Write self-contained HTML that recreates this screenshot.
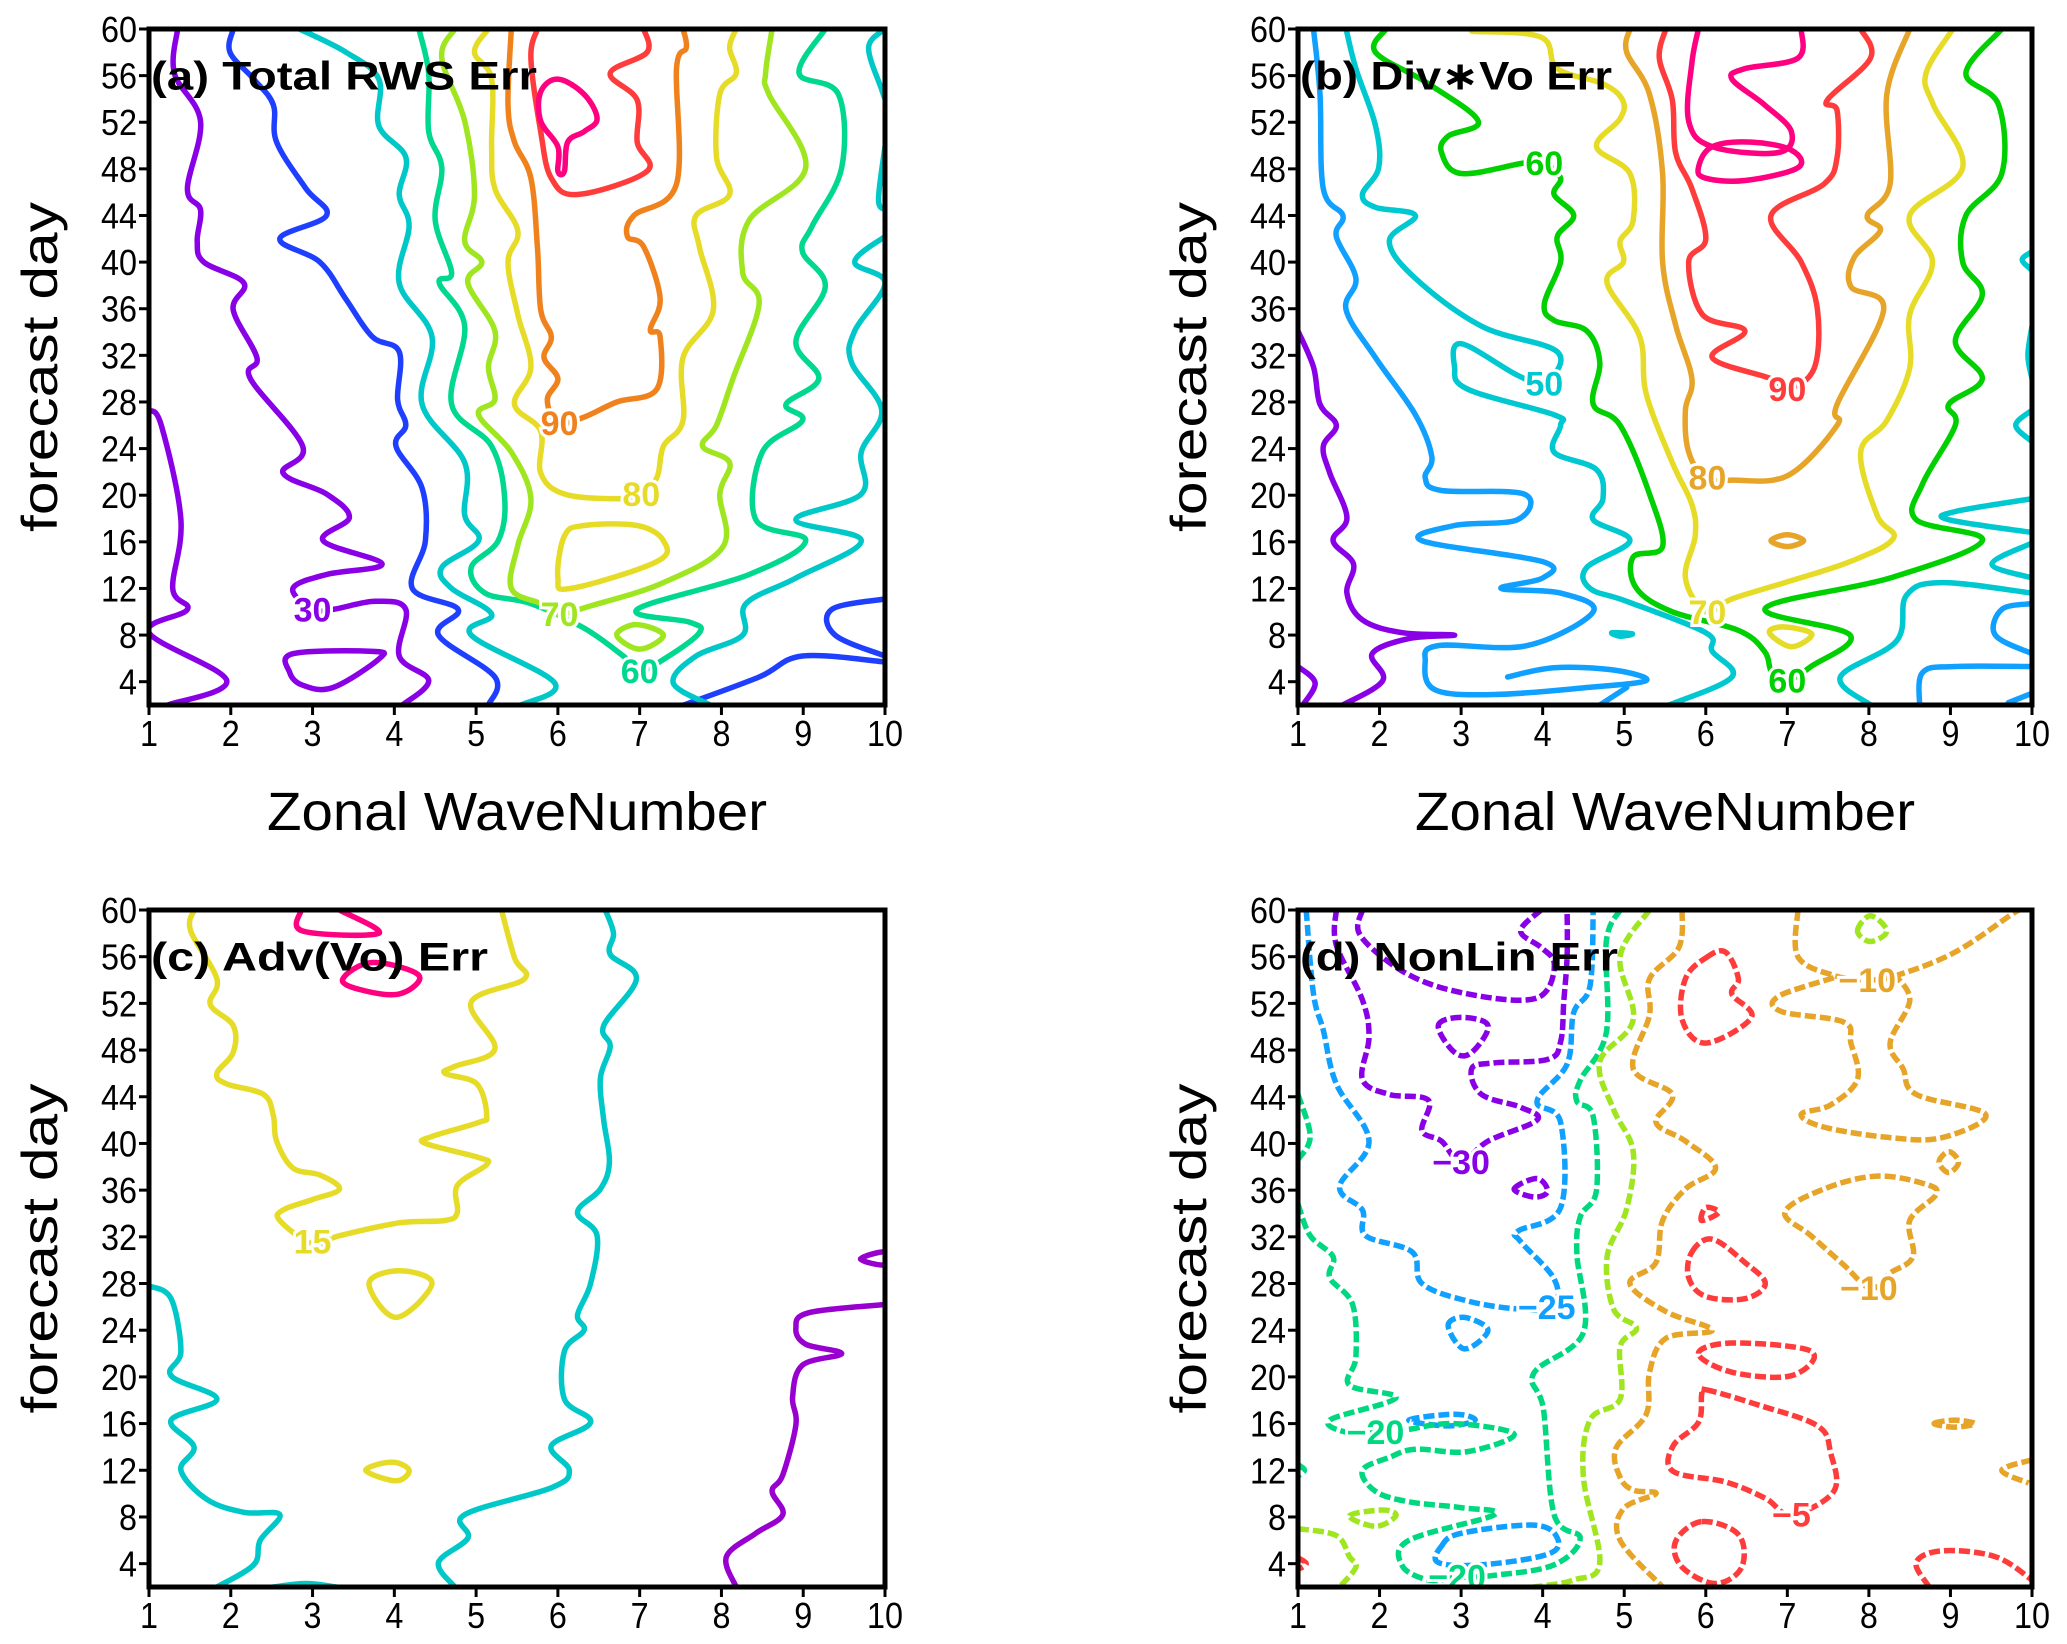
<!DOCTYPE html>
<html><head><meta charset="utf-8"><style>
html,body{margin:0;padding:0;background:#fff}
svg{display:block}
text{font-family:"Liberation Sans","DejaVu Sans",sans-serif}
</style></head><body>
<svg id="fig" width="2067" height="1644" viewBox="0 0 2067 1644" xmlns="http://www.w3.org/2000/svg">
<rect width="2067" height="1644" fill="#fff"/>
</svg>
<script>
// ===== data (wavenumber, forecast day) =====
const xTicks=[1,2,3,4,5,6,7,8,9,10];
const yTicks=[4,8,12,16,20,24,28,32,36,40,44,48,52,56,60];
const panelTitles=["(a)  Total  RWS  Err","(b)  Div\u2217Vo  Err","(c)  Adv(Vo)  Err","(d)  NonLin  Err"];

const aColors=["#8a00e6","#8a00e6","#8a00e6","#8a00e6","#1f3fff","#1f3fff","#1f3fff","#00c8c8","#00c8c8","#00c8c8","#00c8c8","#00d890","#a0e620","#a0e620","#e6dc28","#e6dc28","#f0821e","#ff3c3c","#ff0080"];
const aLines=[
[1.35,60,1.31,56.2,1.63,52.1,1.47,46.3,1.63,44.5,1.59,41.8,1.67,40,2.16,38.2,2.03,35.9,2.32,31.8,2.24,30,2.88,24.2,2.64,21.9,3.17,20.1,3.45,18.1,3.13,16.1,3.85,14.1,3.17,13.2,2.76,12,3.0,10.2,3.25,10.2,3.77,10.9,4.14,10.2,4.06,6.2,4.42,4.1,4.1,2],
[1,27.3,1.15,26,1.39,17.9,1.29,12,1.47,10.2,1,8.2,1.95,4.1,1.23,2],
[2.76,6.4,3.73,6.6,3.82,6,3.25,3.5,2.88,3.7,2.72,4.8,2.76,6.4],
[1,8.2,1,8.2],
[2.03,60,1.99,58,2.28,55.7,2.52,53.5,2.56,50.3,2.92,46.3,3.17,44,2.6,42,3.09,40,3.41,36.8,3.73,33.6,4.06,32.3,4.04,28.2,4.14,26,4.02,24.2,4.34,20.6,4.38,16.1,4.22,12,4.78,10.2,4.54,8,5.23,4.4,5.15,2],
[10,11.1,9.35,10.2,9.39,8,10,6.2],
[7.54,2,8.46,4.4,8.99,6.2,10,5.7],
[2.84,60,3.41,58,3.81,55.7,3.81,51.7,4.14,49,4.06,45.8,4.18,43.1,4.06,38.2,4.46,33.6,4.34,27.8,4.86,22.8,4.86,18.3,5.03,16.1,4.58,13.8,4.7,12,5.19,9.8,4.94,8,5.96,3.9,5.55,2],
[10,60,9.8,58.4,9.96,54.8,10,54],
[10,42.2,9.63,40,10,38.2,9.63,34.1,9.59,31.4,9.96,27.3,9.71,23.7,9.71,20.1,8.91,17.9,9.71,16.1,8.91,12.9,8.3,10.7,8.26,8,7.69,6.2,7.41,3.9,7.86,2],
[10,49.9,9.92,45.4,10,44.5],
[4.3,60,4.42,56.2,4.42,51.2,4.58,48.1,4.5,43.6,4.7,39.1,4.55,38.2,4.86,34.5,4.7,27.8,5.19,24.2,5.35,19.7,5.27,16.1,4.94,13.8,5.11,11.6,5.67,10.7,6.32,8.6,6.8,6.2,7,5,7.29,5.9,7.73,8.2,7.61,9.1,6.97,10.2,8.34,13.2,9.03,16.1,8.42,17.9,8.5,23.7,8.99,26.4,8.79,27.8,9.19,30,8.91,33.2,9.27,37.9,8.99,40.9,9.11,43.1,9.47,48.1,9.43,54.4,8.95,56.2,9.27,60],
[4.74,60,4.58,57.5,4.86,52.1,4.98,45.8,4.86,41.8,5.07,40,4.9,38.2,5.23,34.1,5.15,31,5.23,28.2,5.03,26.9,5.43,23.7,5.67,19.7,5.51,15.7,5.43,12,5.79,10.7,6,9.8,6.4,10.5,7.29,12.5,8.02,15.6,7.98,20.1,8.1,22.8,7.77,24.2,7.94,26,8.14,30,8.46,36.4,8.26,39.1,8.34,43.6,9.03,48.1,8.58,54.4,8.54,56.2,8.62,60],
[6.72,8,6.96,8.9,7.29,8,7,6.8,6.72,8],
[5.15,60,4.98,58,5.19,55.7,5.19,49.9,5.23,46.3,5.51,42.7,5.39,40,5.51,35.5,5.67,31,5.47,27.8,5.79,25.5,5.79,21.9,6.08,20.1,6.72,19.7,7,20.1,7.21,21.5,7.29,24.2,7.53,26.4,7.53,31.8,7.9,35.9,7.73,41.3,7.69,44,8.1,45.8,7.94,49,7.98,54.4,8.18,56.2,8.1,58.4,8.18,60],
[6.08,16.5,6.32,17.4,6.97,17.4,7.29,16.1,7.21,14.3,6.16,12,6,12.9,6.08,16.5],
[5.43,60,5.39,53.5,5.47,50.3,5.67,47.2,5.75,41.3,5.79,35.9,5.92,33.6,5.83,31.8,6,30,5.87,28.2,6,26.2,6.32,26.7,6.72,28,7.21,29.1,7.25,33.6,7.13,34.2,7.25,36.9,7.05,41.3,6.85,42.2,6.93,44,7.45,46.7,7.45,56.6,7.57,58.4,7.53,60],
[5.75,60,5.67,57.5,5.79,51.2,5.92,47.2,6.24,45.8,7.09,47.8,6.97,50.3,6.97,53.9,6.64,56.2,7.09,58,7.05,60],
[6,55.7,6.32,54.4,6.48,52.3,6.32,51.2,6.12,50.3,6.08,47.8,6,47.8,6,49.9,5.79,52.1,5.79,54.6,6,55.7]
];
const aLabels=[[3,10.2,"30","#8a00e6"],[6.02,26.2,"90","#f0821e"],[7.02,20.1,"80","#e6dc28"],[6.02,9.8,"70","#a0e620"],[7,4.9,"60","#00d890"]];

const bColors=["#8a00e6","#8a00e6","#10a0ff","#10a0ff","#10a0ff","#10a0ff","#10a0ff","#00c8d0","#00c8d0","#00c8d0","#00c8d0","#00c8d0","#00c8d0","#00c8d0","#00c8d0","#00d000","#e6dc28","#e6dc28","#e6a428","#e6a428","#ff3c3c","#ff0080","#ff0080"];
const bLines=[
[1,34.1,1.19,31,1.27,27.8,1.47,26,1.31,24.2,1.39,21.9,1.6,18.1,1.43,16.1,1.68,14.1,1.6,11.6,1.79,9.3,2.28,8.2,2.92,8,2.36,7.7,1.91,6.4,2.04,4.1,1.55,2],
[1,5.3,1.21,3.9,1.06,2],
[1.19,60,1.27,54.4,1.31,46.3,1.55,44,1.47,42.2,1.71,38.6,1.59,35.9,1.95,31.8,2.44,26.9,2.64,23.3,2.56,21.5,2.76,20.4,3.77,20.1,3.69,17.9,2.92,17.4,2.52,16.1,4.0,14.3,4.0,12.9,3.49,12,4.22,11.6,4.62,10,3.81,7.1,2.72,7.1,2.56,5.7,2.68,3.3,3.41,2.9,4.54,3.5,5.27,4.1,4.87,5,4.14,5.2,3.57,4.4],
[4.7,2,5.03,3.5],
[10,10.7,9.63,10.2,9.55,8,10,6.4],
[8.62,2,8.66,4.8,9.06,5.3,10,5.3],
[9.71,2.2,10,3],
[1.59,60,1.71,56.6,1.95,51.7,1.99,48.1,1.79,45.8,1.95,44.7,2.44,44,2.12,41.8,2.44,38.6,3.25,34.5,4.18,32.3,4.02,29.6,3.69,30.3,3,33,2.92,31,3.08,29.1,4.14,26.9,4.22,26,4.14,23.7,4.66,22.2,4.74,19.7,4.62,17.9,5.07,16.1,4.54,13.8,4.58,12,5.03,10.9,6,8.2,6.08,6.6,6.32,4.4,5.55,2],
[4.85,8.2,5.1,8.1,4.95,7.9,4.85,8.2],
[10,40.9,9.88,40.2,10,39.3],
[10,34.5,9.95,32,10,30],
[10,27.3,9.8,26,10,24.6],
[10,19.7,9.06,18.6,8.98,17.9,10,16.8],
[10,15.9,9.51,14.1,10,12.9],
[10,11.6,8.9,12.5,8.46,11.4,8.34,7.5,7.65,4.4,8.02,2],
[2.08,60,1.95,58,2.6,55.3,3.21,52.1,2.84,50.8,2.76,49.4,3,47.6,3.77,48.5,4.02,48.5,4.22,47.2,4.14,45.8,4.38,44,4.18,42.2,4.22,40,4.02,36.4,4.14,35,4.54,34.1,4.7,31.4,4.62,27.8,4.95,26,5.31,20.1,5.47,15.6,5.11,14.7,5.15,12,5.59,10,6.4,8.4,6.72,6.6,6.81,4.8,7,4.1,7.29,5.3,7.77,8,6.73,10.3,8.26,12.9,9.39,16.1,8.58,17.9,8.66,21,9.06,26,8.98,27.8,9.39,30,9.06,33.2,9.39,37.2,9.15,40,9.19,44,9.63,47.6,9.59,53.5,9.19,56.2,9.63,60],
[3.13,59.8,3.98,59.3,4.18,56.6,4.74,55.3,4.98,53.9,4.95,52.3,4.66,49.9,5.07,47.6,5.11,43.6,4.95,41.8,4.99,40,4.79,38.2,5.19,33.6,5.27,28.7,5.59,22.8,5.83,19.2,5.87,16.5,5.75,12.9,6,10,6.32,11.1,6.97,12.5,7.77,14.3,8.3,16.3,8.1,18.3,7.9,23.7,8.22,26.4,8.5,30.9,8.5,35.5,8.78,40,8.5,44,9.15,48.1,8.79,53.5,8.7,56.2,9.03,60],
[6.78,8.2,6.95,8.7,7.3,8.1,7.05,7.0,6.78,8.2],
[5.07,60,5.03,58,5.31,54.4,5.47,47.6,5.47,40,5.63,34.6,5.83,30,5.75,27.3,5.79,23.7,6,21.5,6.32,21.3,7.01,21.7,7.61,26,7.61,27.8,8.18,35.9,7.78,37.9,7.82,40.4,8.14,42.7,7.98,44,8.26,46.7,8.22,54.4,8.5,60],
[6.8,16.1,7,16.6,7.2,16.1,7,15.6,6.8,16.1],
[5.51,60,5.43,57.5,5.59,53.9,5.63,49.4,5.83,46.3,6,42,5.79,40,5.96,35.5,6.48,34.1,6.08,31.8,6.8,30,7,29.1,7.33,30.9,7.37,35.9,7.17,40,6.8,44,7.45,46.7,7.61,49,7.61,53,7.49,53.9,8.02,57.5,7.9,60],
[5.91,60,5.83,57.1,5.79,52.1,6.08,49.9,6.89,49.4,7.05,51.2,6.72,53.5,6.32,55.7,6.48,56.6,7.13,57.5,7.17,60],
[5.91,48.1,6.08,49.9,6.56,50.3,7.05,49.6,7.13,48.1,6.48,47,6,47.2,5.91,48.1]
];
const bLabels=[[4.02,48.5,"60","#00d000"],[4.02,29.6,"50","#00c8d0"],[7,29.1,"90","#ff3c3c"],[6.02,21.5,"80","#e6a428"],[6.02,10,"70","#e6dc28"],[7,4.1,"60","#00d000"]];

const cColors=["#e6dc28","#e6dc28","#e6dc28","#ff0080","#ff0080","#00c8c8","#00c8c8","#00c8c8","#9800d0","#9800d0"];
const cLines=[
[1.55,60,1.51,58.2,1.83,54.1,1.75,51.9,2.03,50.1,2.03,47.8,1.83,46,1.95,45.1,2.4,44.2,2.52,42.4,2.56,40.2,2.76,37.9,3.09,37.3,3.33,36.1,3.0,35.2,2.64,34.3,2.6,33.4,3,31.4,3.33,32.1,4.06,33.2,4.62,33.4,4.77,34.1,4.77,36.4,5.13,38.2,5.03,38.8,4.38,40,4.46,40.6,5.03,41.8,5.13,42.4,5.01,45.1,4.62,46,4.74,46.6,5.23,48.1,4.94,52.1,5.59,54.1,5.47,55.9,5.31,60],
[3.69,28,4.06,29.1,4.46,28,4.02,25.1,3.69,28],
[3.65,12,3.97,12.7,4.18,12,4.02,11.1,3.65,12],
[2.86,60,2.88,58.2,3.81,58,3.33,60],
[3.37,54.1,3.73,55.5,4.3,54.4,4.06,52.8,3.57,53.2,3.37,54.1],
[1,27.8,1.27,26.7,1.39,22.2,1.27,20.1,1.83,18.1,1.27,16.3,1.55,14,1.39,12,1.71,9.5,2.16,8.4,2.6,8.2,2.36,6,2.28,3.9,1.83,2],
[2.52,2,2.92,2.3,3.29,2],
[6.58,60,6.68,58,6.64,56.2,6.96,54.1,6.56,50.1,6.64,48.3,6.52,45.6,6.56,42,6.63,38.4,6.52,36.1,6.24,34.1,6.48,32.1,6.4,28,6.24,25.3,6.32,24,6.08,22.2,6.08,18.1,6.4,16.1,5.92,14.1,6.14,12,5.92,10.5,4.86,8.2,4.9,6.2,4.54,4.1,4.74,2],
[10,26.2,9.07,25.5,8.91,24.2,9.03,22.8,9.47,22,8.99,21,8.87,18.3,8.91,15.9,8.75,11.6,8.62,10.2,8.75,8.2,8.42,6.6,8.06,4.6,8.18,2],
[9.7,30.1,10,30.7,10,29.6,9.7,30.1]
];
const cLabels=[[3.0,31.6,"15","#e6dc28"]];

const dColors=["#8a00e6","#8a00e6","#8a00e6","#8a00e6","#10a0ff","#10a0ff","#10a0ff","#10a0ff","#00d880","#00d880","#00d880","#00d880","#a0e620","#a0e620","#a0e620","#a0e620","#e6a428","#e6a428","#e6a428","#e6a428","#e6a428","#e6a428","#e6a428","#ff3c3c","#ff3c3c","#ff3c3c","#ff3c3c","#ff3c3c","#ff3c3c","#ff3c3c","#ff3c3c"];
const dLines=[
[1.79,60,1.75,58,2.12,55.5,2.6,53.7,3.25,52.6,3.81,52.3,4.06,53.2,4.14,55.5,3.98,56.8,3.73,58.2,3.98,60],
[1.47,60,1.47,57,1.79,52.3,1.87,49.1,1.79,45.5,2.12,44.2,2.6,43.7,2.52,41.1,2.76,40.2,3,38.4,3.33,40.2,3.93,42,3.73,43.1,3.25,44.2,3.13,46.4,3.41,46.9,4.06,47.2,4.22,48.7,4.26,52.3,4.3,56,4.3,60],
[2.72,50.1,3,50.8,3.33,50.1,3.13,47.8,2.92,47.8,2.72,50.1],
[3.65,36.1,3.93,37,4.06,35.9,3.9,35.4,3.65,36.1],
[1.1,60,1.19,52.8,1.31,49.7,1.47,45.1,1.87,40.2,1.51,36.3,1.79,34.3,1.83,32.1,2.4,30.7,2.52,28,3.08,26.5,3.73,25.8,4.14,26,4.14,28.4,3.73,31.6,3.7,32.5,4.22,34.5,4.22,41.8,3.93,43.6,4.3,46.8,4.38,51.2,4.58,53.5,4.62,60],
[2.84,24.4,3.04,25.1,3.33,24,3.04,22.4,2.84,24.4],
[2.36,16.3,2.92,16.8,3.17,16.3,2.84,15.8,2.36,16.3],
[2.76,5.5,3,6.6,3.89,7.3,4.18,6.2,4.06,4.8,3.25,3.9,2.72,4.1,2.76,5.5],
[1,44.2,1.15,40.6,1,38.6],
[1,34.8,1.15,32.1,1.43,30.3,1.39,28.5,1.67,26.2,1.71,21.7,1.63,19.3,2.2,18.2,1.39,16.3,1.63,15.2,2.04,15.3],
[2.36,15.5,2.92,16,3.65,15.1,3.08,13.6,2.44,13.8,2.12,13.1,1.79,12,1.95,10.2,2.36,9.3,3,8.8,3.41,8.2,2.36,6,2.28,3.8,2.6,2.6,2.92,2.8,3.41,3,4.14,3.9,4.46,6.2,4.14,8.2,4.01,17.2,3.89,20.3,4.5,23.8,4.42,30.5,4.46,33.7,4.66,36,4.62,42.3,4.42,43.6,4.46,45.4,4.78,49.5,4.78,57.3,4.95,60],
[1,12.5,1.08,12,1,11.5],
[5.31,60,4.95,56,5.11,50.6,4.7,47,4.87,42.9,5.11,39.3,5.03,34.4,4.79,30.3,4.87,25.8,5.15,24.2,4.95,22.6,4.95,18.1,4.58,16.3,4.5,11.4,4.7,4.1,4.38,2.6,3.89,2],
[1,7,1.47,6.4,1.63,4.6,1.71,3.7,1.51,2],
[1.63,8.1,2.04,8.6,2.2,8.1,1.95,7.2,1.63,8.1],
[7.86,58.2,8.02,59.5,8.22,58.2,8.02,57.3,7.86,58.2],
[5.71,60,5.67,56.8,5.31,54.1,5.31,51,5.11,46.4,5.59,44.2,5.39,41.8,5.75,40.2,6.12,37.9,5.75,36.1,5.47,33.4,5.39,29.8,5.07,28,5.51,25.6,6.08,24,5.51,23.3,5.31,20.4,5.27,16.8,4.9,13.9,4.95,11.4,5.11,10.3,5.39,10,4.99,8.7,4.95,6,5.47,2],
[7.13,60,7.13,56,7.57,54.4,7.98,54,8.34,54.4,9.06,56.4,9.79,59.8,9.9,60],
[7.57,54.2,6.89,52.6,6.93,51.3,7.69,50.4,7.78,48.6,7.86,45.5,7.53,43.3,7.17,42.5,7.45,41.4,8.26,40.5,8.9,40.5,9.43,42.5,8.58,44.2,8.42,46.4,8.26,48.6,8.5,52.2,8.34,54.3],
[8.86,38.4,8.98,39.3,9.1,38.4,8.98,37.5,8.86,38.4],
[8.02,27.6,7.69,29.6,7.29,32.1,6.97,34.1,7.45,36.1,8.1,37.2,8.7,36.5,8.82,35.6,8.5,33.4,8.54,30.3,8.26,28.9,8.02,27.6],
[8.8,16,9.05,16.3,9.3,16,9.05,15.7,8.8,16],
[10,12.9,9.63,12,9.96,10.9],
[1,4.5,1.1,4,1,3.5],
[6,55.9,6.24,56.4,6.4,54.1,6.32,52.8,6.56,50.8,6,48.6,5.71,50.6,5.75,54.1,6,55.9],
[5.95,33.4,6,34.5,6.16,34.1,5.95,33.4],
[5.83,30.7,6.08,31.8,6.48,29.8,6.73,28,6.48,26.7,6,26.9,5.79,28.5,5.83,30.7],
[5.91,22,6.32,22.9,7.29,22.2,7.05,20.1,6.32,20.4,5.91,22],
[6,18.9,6.64,17.6,7.37,15.8,7.53,13.5,7.57,10.2,7.05,8.2,6.73,9.6,6.24,11,5.6,11.9,5.6,14.1,5.91,16.1,5.95,18.5,6,18.9],
[5.95,7.6,6.4,6.5,6.44,3.7,6.12,2.3,5.71,3.7,5.63,5.9,5.95,7.6],
[8.74,2,8.58,4.1,8.9,5.1,9.55,4.6,10,2.6],
[10,6.6,9.88,6.1,10,5.6]
];
const dLabels=[[3.0,38.4,"\u221230","#8a00e6"],[4.05,26,"\u221225","#10a0ff"],[1.95,15.3,"\u221220","#00d880"],[2.95,2.9,"\u221220","#00d880"],[7.98,54,"\u221210","#e6a428"],[8.0,27.6,"\u221210","#e6a428"],[7.05,8.2,"\u22125","#ff3c3c"]];

// ===== layout =====
const NS="http://www.w3.org/2000/svg";
const svg=document.getElementById('fig');
const panels=[
 {x0:149,x1:885,yt:29,yb:705,lines:aLines,colors:aColors,labels:aLabels,dash:false,name:"panel-a",xTitle:true},
 {x0:1298,x1:2032,yt:29,yb:705,lines:bLines,colors:bColors,labels:bLabels,dash:false,name:"panel-b",xTitle:true},
 {x0:149,x1:885,yt:910,yb:1587,lines:cLines,colors:cColors,labels:cLabels,dash:false,name:"panel-c",xTitle:false},
 {x0:1298,x1:2032,yt:910,yb:1587,lines:dLines,colors:dColors,labels:dLabels,dash:true,name:"panel-d",xTitle:false}
];
function mk(tag,attrs,parent){const e=document.createElementNS(NS,tag);for(const k in attrs)e.setAttribute(k,attrs[k]);(parent||svg).appendChild(e);return e;}
function smoothPath(P){
 if(P.length<3)return 'M'+P.map(p=>p[0].toFixed(1)+','+p[1].toFixed(1)).join(' L');
 const closed=Math.abs(P[0][0]-P[P.length-1][0])<0.5&&Math.abs(P[0][1]-P[P.length-1][1])<0.5;
 let d='M'+P[0][0].toFixed(1)+','+P[0][1].toFixed(1);
 const n=P.length;
 const get=i=>{if(closed){i=((i%(n-1))+(n-1))%(n-1);return P[i];}return P[Math.max(0,Math.min(n-1,i))];};
 const t=0.35;
 for(let i=0;i<n-1;i++){
  const p0=get(i-1),p1=P[i],p2=P[i+1],p3=get(i+2);
  const c1=[p1[0]+(p2[0]-p0[0])*t/2*1.0/1,p1[1]+(p2[1]-p0[1])*t/2];
  const c2=[p2[0]-(p3[0]-p1[0])*t/2,p2[1]-(p3[1]-p1[1])*t/2];
  d+=' C'+c1[0].toFixed(1)+','+c1[1].toFixed(1)+' '+c2[0].toFixed(1)+','+c2[1].toFixed(1)+' '+p2[0].toFixed(1)+','+p2[1].toFixed(1);
 }
 return d;
}

panels.forEach((p,pi)=>{
 const X=w=>p.x0+(w-1)*(p.x1-p.x0)/9;
 const Y=d=>p.yt+(60-d)*(p.yb-p.yt)/58;
 const g=mk('g',{});
 
 
 const cp=mk('clipPath',{id:'clip'+pi},g);
 mk('rect',{x:p.x0,y:p.yt,width:p.x1-p.x0,height:p.yb-p.yt},cp);
 const lg=mk('g',{'clip-path':'url(#clip'+pi+')'},g);
 p.lines.forEach((arr,li)=>{
  let pts=[];
  for(let i=0;i<arr.length;i+=2)pts.push([X(arr[i]),Y(arr[i+1])]);
  const pl=mk('path',{d:smoothPath(pts),fill:'none',stroke:p.colors[li],'stroke-width':p.dash?5.5:5.5,'stroke-linejoin':'round','stroke-linecap':p.dash?'butt':'round'},lg);
  if(p.dash)pl.setAttribute('stroke-dasharray','11 4');
  
  
 });
 p.labels.forEach(l=>{
  const t=mk('text',{x:X(l[0]),y:Y(l[1])+12,'text-anchor':'middle','font-size':34,'font-weight':'bold',fill:l[3],stroke:'#fff','stroke-width':6,'paint-order':'stroke'},lg);
  t.textContent=l[2];
  
  
 });
 const fr=mk('rect',{x:p.x0,y:p.yt,width:p.x1-p.x0,height:p.yb-p.yt,fill:'none',stroke:'#000','stroke-width':5},g);
 
 
 yTicks.forEach(v=>{
  mk('line',{x1:p.x0-10,x2:p.x0,y1:Y(v),y2:Y(v),stroke:'#000','stroke-width':3},g);
  const t=mk('text',{x:p.x0-12,y:Y(v)+13,'text-anchor':'end','font-size':36,textLength:v<10?18:36,lengthAdjust:'spacingAndGlyphs'},g);
  t.textContent=v;
  
  
 });
 xTicks.forEach(v=>{
  mk('line',{x1:X(v),x2:X(v),y1:p.yb,y2:p.yb+10,stroke:'#000','stroke-width':3},g);
  const t=mk('text',{x:X(v),y:p.yb+41,'text-anchor':'middle','font-size':36,textLength:v<10?18:36,lengthAdjust:'spacingAndGlyphs'},g);
  t.textContent=v;
  
  
 });
 const tt=mk('text',{x:p.x0+2,y:Y(56)+14,'font-size':40,'font-weight':'bold',textLength:[386,312,337,318][pi],lengthAdjust:'spacingAndGlyphs'},g);
 tt.textContent=panelTitles[pi];
 
 
 const cy=(p.yt+p.yb)/2, cx=p.x0-92;
 const yt=mk('text',{x:cx,y:cy,transform:`rotate(-90 ${cx} ${cy})`,'text-anchor':'middle','font-size':50,textLength:330,lengthAdjust:'spacingAndGlyphs'},g);
 yt.textContent='forecast  day';
 
 
 if(p.xTitle){
  const xt=mk('text',{x:(p.x0+p.x1)/2,y:p.yb+125,'text-anchor':'middle','font-size':54,textLength:500,lengthAdjust:'spacingAndGlyphs'},g);
  xt.textContent='Zonal  WaveNumber';
  
  
 }
});
</script>
</body></html>
